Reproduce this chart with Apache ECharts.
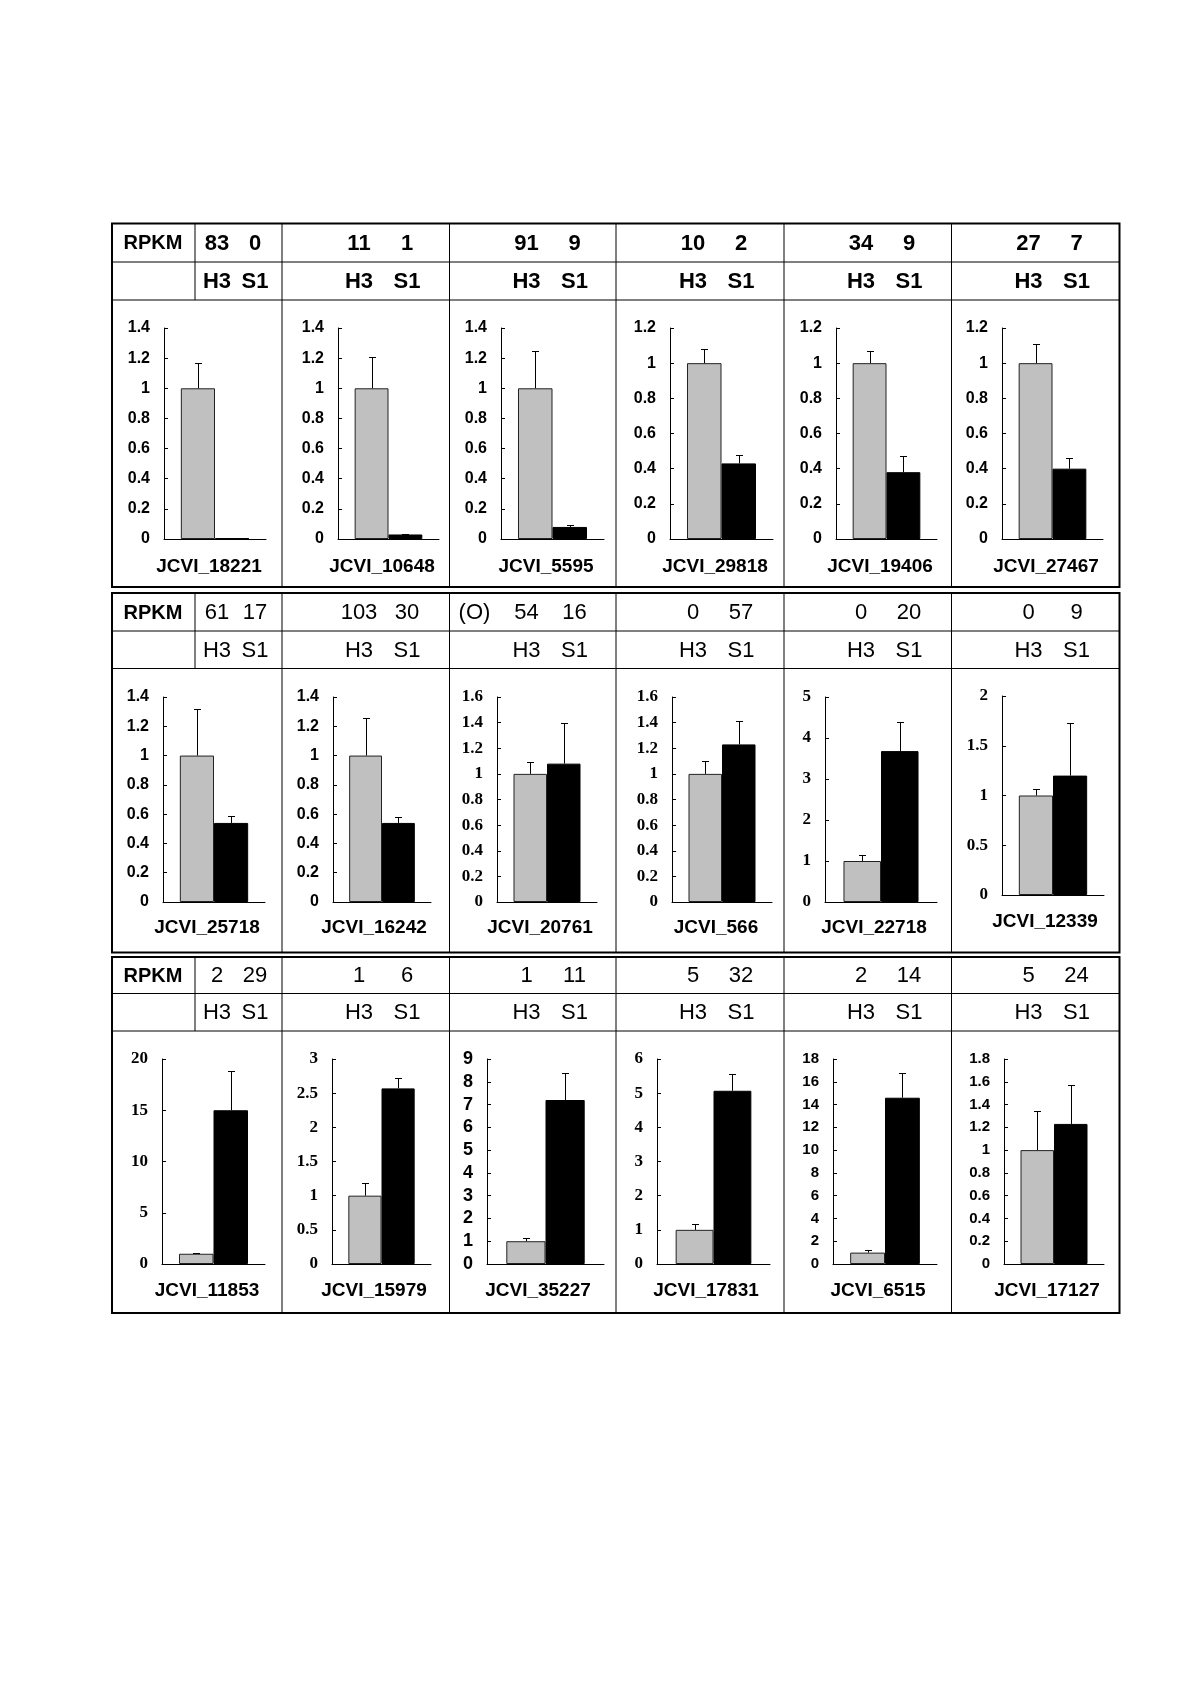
<!DOCTYPE html>
<html><head><meta charset="utf-8">
<script src="https://cdn.jsdelivr.net/npm/echarts@6/dist/echarts.min.js"></script>
<style>html,body{margin:0;padding:0;background:#fff}#c{width:1200px;height:1698px}</style>
</head><body><div id="c"></div>
<script>
// ---------------- data ----------------
const genes = ['JCVI_18221','JCVI_10648','JCVI_5595','JCVI_29818','JCVI_19406','JCVI_27467',
  'JCVI_25718','JCVI_16242','JCVI_20761','JCVI_566','JCVI_22718','JCVI_12339',
  'JCVI_11853','JCVI_15979','JCVI_35227','JCVI_17831','JCVI_6515','JCVI_17127'];
const rpkmH3 = [83, 11, 91, 10, 34, 27,  61, 103, 54, 0, 0, 0,  2, 1, 1, 5, 2, 5];
const rpkmS1 = [0, 1, 9, 2, 9, 7,  17, 30, 16, 57, 20, 9,  29, 6, 11, 32, 14, 24];
const rpkmNote = ['', '', '', '', '', '',  '', '', '(O)', '', '', '',  '', '', '', '', '', ''];
const rowHeader = 'RPKM';
const sampleLabels = ['H3', 'S1'];
const h3Values = [1, 1, 1, 1, 1, 1,  1, 1, 1, 1, 1, 1,  1, 1, 1, 1, 1, 1];
const s1Values = [0.005, 0.03, 0.08, 0.43, 0.38, 0.40,  0.54, 0.54, 1.08, 1.23, 3.68, 1.20,  15.0, 2.57, 7.2, 5.07, 14.6, 1.23];
const h3Errors = [0.17, 0.21, 0.25, 0.08, 0.07, 0.11,  0.32, 0.26, 0.09, 0.10, 0.15, 0.07,  0.1, 0.19, 0.14, 0.17, 0.2, 0.34];
const s1Errors = [0, 0.005, 0.01, 0.05, 0.09, 0.06,  0.05, 0.04, 0.32, 0.18, 0.71, 0.53,  3.8, 0.15, 1.2, 0.48, 2.2, 0.34];
const yMax  = [1.4, 1.4, 1.4, 1.2, 1.2, 1.2,  1.4, 1.4, 1.6, 1.6, 5, 2,  20, 3, 9, 6, 18, 1.8];
const yStep = [0.2, 0.2, 0.2, 0.2, 0.2, 0.2,  0.2, 0.2, 0.2, 0.2, 1, 0.5,  5, 0.5, 1, 1, 2, 0.2];

// ---------------- layout ----------------
const colEdges = [112, 195, 282, 449.5, 616, 784, 951.5, 1119.5];
const rowBoxes = [[223.5, 262, 300, 587], [593, 631, 668.5, 952.5], [957, 993.5, 1031, 1313]];
const gridRects = [ // left, top, right, bottom
  [164, 328, 266, 539], [338, 328, 439, 539], [501, 328, 604, 539], [670, 328, 773, 539], [836, 328, 937, 539], [1002, 328, 1103, 539],
  [163, 697, 265, 902], [333, 697, 431, 902], [497, 697, 597, 902], [672, 697, 772, 902], [825, 697, 937, 902], [1002, 696, 1104, 895],
  [162, 1059, 265, 1264], [332, 1059, 431, 1264], [487, 1059, 604, 1264], [657, 1059, 770, 1264], [833, 1059, 937, 1264], [1004, 1059, 1104, 1264]
];
const geneLabelPos = [
  [209, 567], [382, 567], [546, 567], [715, 567], [880, 567], [1046, 567],
  [207, 928], [374, 928], [540, 928], [716, 928], [874, 928], [1045, 922],
  [207, 1291], [374, 1291], [538, 1291], [706, 1291], [878, 1291], [1047, 1291]
];
const SANS = '"Liberation Sans", Arial, sans-serif';
const SERIF = '"Liberation Serif", "Times New Roman", serif';
const tickFonts = [SANS, SANS, SANS, SANS, SANS, SANS,  SANS, SANS, SERIF, SERIF, SERIF, SERIF,  SERIF, SERIF, SANS, SERIF, SANS, SANS];
const tickSizes = [16, 16, 16, 16, 16, 16,  16, 16, 17, 17, 17, 17,  17, 17, 18, 17, 15, 15];
const GAP = 0.33;
const GRAY = '#c0c0c0';

const grid = [], xAxis = [], yAxis = [], series = [], graphic = [];

gridRects.forEach((g, i) => {
  grid.push({left: g[0], top: g[1], width: g[2] - g[0], height: g[3] - g[1], containLabel: false});
  xAxis.push({gridIndex: i, type: 'category', data: [''],
    axisLine: {show: true, lineStyle: {color: '#000', width: 1}},
    axisTick: {show: false}, axisLabel: {show: false}, splitLine: {show: false}});
  yAxis.push({gridIndex: i, type: 'value', min: 0, max: yMax[i], interval: yStep[i],
    axisLine: {show: true, lineStyle: {color: '#000', width: 1}},
    axisTick: {show: true, inside: true, length: 4, lineStyle: {color: '#000'}},
    splitLine: {show: false},
    axisLabel: {color: '#000', fontWeight: 'bold', fontSize: tickSizes[i], fontFamily: tickFonts[i], margin: 14}});
  series.push({type: 'bar', xAxisIndex: i, yAxisIndex: i, name: sampleLabels[0],
    data: [h3Values[i]], barGap: '0%', barCategoryGap: (GAP * 100) + '%',
    itemStyle: {color: GRAY, borderColor: '#222', borderWidth: 1}, silent: true, animation: false});
  series.push({type: 'bar', xAxisIndex: i, yAxisIndex: i, name: sampleLabels[1],
    data: [s1Values[i]], barGap: '0%', barCategoryGap: (GAP * 100) + '%',
    itemStyle: {color: '#000', borderColor: '#000', borderWidth: 1}, silent: true, animation: false});
  series.push({type: 'custom', xAxisIndex: i, yAxisIndex: i, silent: true, animation: false, z: 5,
    data: [[0, h3Values[i], h3Errors[i], -1], [0, s1Values[i], s1Errors[i], 1]],
    renderItem: function (params, api) {
      const v = api.value(1), e = api.value(2), side = api.value(3);
      if (!(e > 0)) return null;
      const band = api.size([1, 0])[0];
      const barW = band * (1 - GAP) / 2;
      const base = api.coord([0, v]);
      const top = api.coord([0, v + e]);
      const x = Math.round(base[0] + side * barW / 2) + 0.5;
      const ty = Math.round(top[1]) + 0.5;
      return {type: 'group', children: [
        {type: 'line', shape: {x1: x, y1: base[1], x2: x, y2: ty}, style: {stroke: '#000', lineWidth: 1}},
        {type: 'line', shape: {x1: x - 3.5, y1: ty, x2: x + 3.5, y2: ty}, style: {stroke: '#000', lineWidth: 1}}
      ]};
    }});
  graphic.push({type: 'text', silent: true, z: 10, style: {
    text: genes[i], x: geneLabelPos[i][0], y: geneLabelPos[i][1],
    align: 'center', verticalAlign: 'middle', textAlign: 'center', textVerticalAlign: 'middle',
    font: 'bold 19px ' + SANS, fill: '#000'}});
});

// table lines & header texts
const L = colEdges[0], R = colEdges[colEdges.length - 1];
rowBoxes.forEach((rb, r) => {
  const [top, h1, h2, bottom] = rb;
  graphic.push({type: 'rect', silent: true, z: 10, shape: {x: L, y: top, width: R - L, height: bottom - top},
    style: {fill: 'none', stroke: '#000', lineWidth: 2}});
  [h1, h2].forEach(y => graphic.push({type: 'line', silent: true, z: 10,
    shape: {x1: L, y1: y, x2: R, y2: y}, style: {stroke: '#000', lineWidth: 1}}));
  graphic.push({type: 'line', silent: true, z: 10, shape: {x1: colEdges[1], y1: top, x2: colEdges[1], y2: h2},
    style: {stroke: '#000', lineWidth: 1}});
  for (let k = 2; k < colEdges.length - 1; k++) {
    graphic.push({type: 'line', silent: true, z: 10, shape: {x1: colEdges[k], y1: top, x2: colEdges[k], y2: bottom},
      style: {stroke: '#000', lineWidth: 1}});
  }
  const y1 = (top + h1) / 2 + 1, y2 = (h1 + h2) / 2 + 1;
  const weight = r === 0 ? 'bold' : 'normal';
  const txt = (t, x, y, font) => graphic.push({type: 'text', silent: true, z: 10, style: {
    text: t, x: x, y: y, align: 'center', verticalAlign: 'middle', textAlign: 'center', textVerticalAlign: 'middle',
    font: font, fill: '#000'}});
  txt(rowHeader, 153, y1, 'bold 20px ' + SANS);
  for (let c = 0; c < 6; c++) {
    const i = r * 6 + c;
    const left = c === 0 ? colEdges[1] : colEdges[c + 1];
    const xH = c === 0 ? 217 : left + 77;
    const xS = c === 0 ? 255 : left + 125;
    txt(String(rpkmH3[i]), xH, y1, weight + ' 22px ' + SANS);
    txt(String(rpkmS1[i]), xS, y1, weight + ' 22px ' + SANS);
    if (rpkmNote[i]) txt(rpkmNote[i], left + 25, y1, weight + ' 22px ' + SANS);
    txt(sampleLabels[0], xH, y2, weight + ' 22px ' + SANS);
    txt(sampleLabels[1], xS, y2, weight + ' 22px ' + SANS);
  }
});

const chart = echarts.init(document.getElementById('c'), null, {renderer: 'canvas'});
chart.setOption({backgroundColor: '#fff', animation: false, grid, xAxis, yAxis, series, graphic});
</script></body></html>
